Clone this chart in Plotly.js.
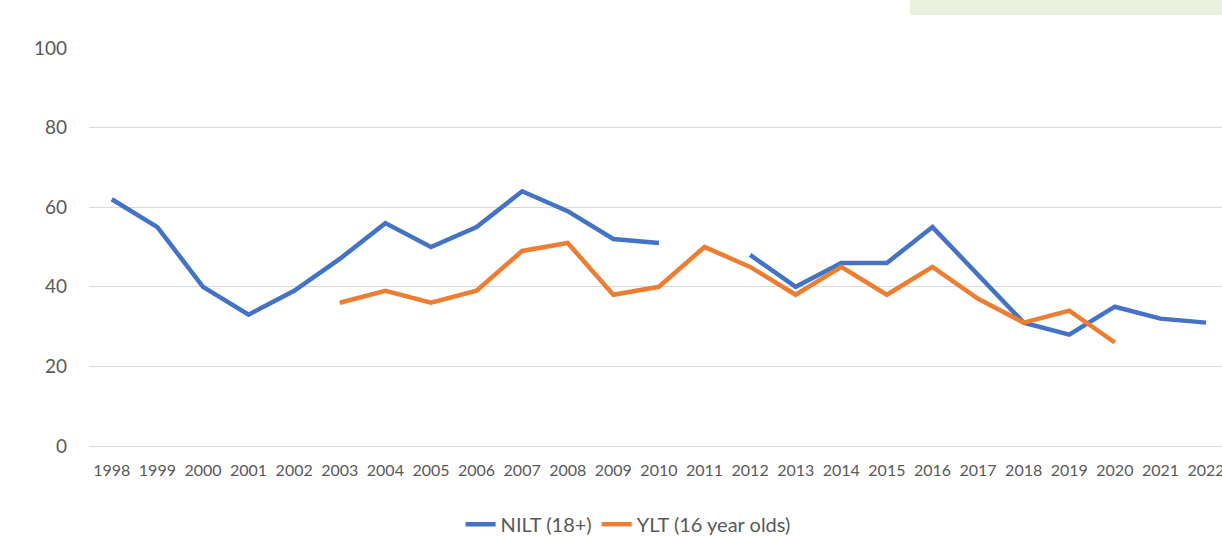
<!DOCTYPE html>
<html>
<head>
<meta charset="utf-8">
<script src="https://cdn.plot.ly/plotly-3.0.1.min.js"></script>
<style>html,body{margin:0;padding:0;background:#fff;}#chart{width:1222px;height:536px;}</style>
</head>
<body>
<div id="chart"></div>
<script>
const years = ["1998","1999","2000","2001","2002","2003","2004","2005","2006","2007","2008","2009","2010","2011","2012","2013","2014","2015","2016","2017","2018","2019","2020","2021","2022"];
const nilt = [62,55,40,33,39,47,56,50,55,64,59,52,51,null,48,40,46,46,55,43,31,28,35,32,31];
const ylt = [null,null,null,null,null,36,39,36,39,49,51,38,40,50,45,38,45,38,45,37,31,34,26,null,null];
const seriesNames = ["NILT (18+)","YLT (16 year olds)"];
const yTicks = [0,20,40,60,80,100];

const font = "Lato, 'Open Sans', sans-serif";
const traces = [
  {x: years, y: nilt, name: seriesNames[0], type: "scatter", mode: "lines",
   line: {color: "#4472C4", width: 4.5}, connectgaps: false},
  {x: years, y: ylt, name: seriesNames[1], type: "scatter", mode: "lines",
   line: {color: "#ED7D31", width: 4.5}, connectgaps: false}
];
const layout = {
  width: 1222, height: 536,
  margin: {l: 89, r: 0, t: 48, b: 90},
  paper_bgcolor: "#fff", plot_bgcolor: "#fff",
  font: {family: font, color: "#595959"},
  showlegend: true,
  legend: {orientation: "h", xref: "container", yref: "container", x: 0.514, y: 0.022,
           xanchor: "center", yanchor: "middle", font: {family: font, size: 20, color: "#595959"},
           bgcolor: "rgba(0,0,0,0)"},
  xaxis: {type: "category", range: [-0.5, 24.35], showgrid: false, zeroline: false, showline: false,
          ticks: "", tickfont: {family: font, size: 16, color: "#595959"}, ticklabelstandoff: 13,
          tickangle: 0, fixedrange: true},
  yaxis: {range: [0, 100], tickvals: yTicks, showgrid: true, gridcolor: "#D9D9D9", gridwidth: 1,
          zeroline: true, zerolinecolor: "#D9D9D9", zerolinewidth: 1, showline: false, ticks: "",
          tickfont: {family: font, size: 19, color: "#595959"}, ticklabelstandoff: 21, fixedrange: true},
  shapes: [
    {type: "rect", xref: "paper", yref: "paper", x0: 0.7246, x1: 1.01, y0: 1.083, y1: 1.13,
     fillcolor: "#E9F1DD", line: {width: 0}, layer: "above"}
  ]
};
Plotly.newPlot("chart", traces, layout, {displayModeBar: false, staticPlot: true});
</script>
</body>
</html>
